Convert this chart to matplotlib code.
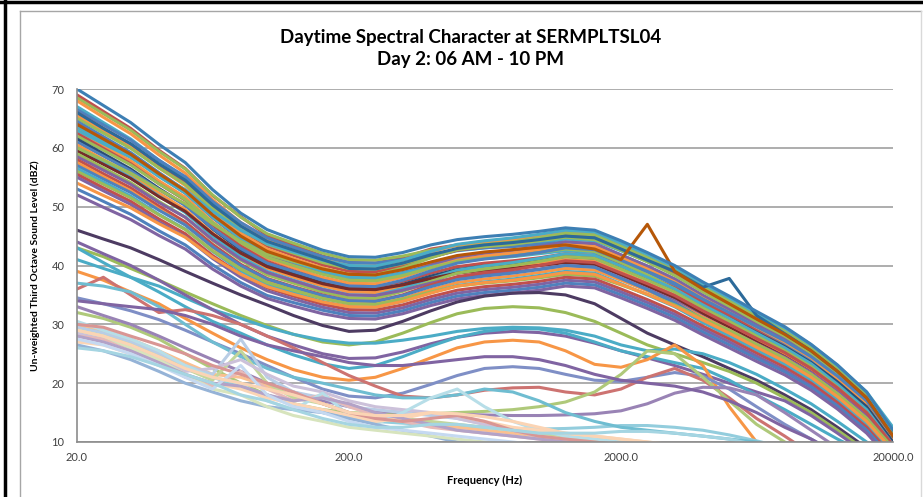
import matplotlib
matplotlib.use("Agg")
import matplotlib.pyplot as plt
from matplotlib.lines import Line2D

# third octave band centre frequencies (Hz)
freqs = [20, 25, 31.5, 40, 50, 63, 80, 100, 125, 160, 200, 250, 315, 400, 500, 630,
	800, 1000, 1250, 1600, 2000, 2500, 3150, 4000, 5000, 6300, 8000, 10000, 12500, 16000, 20000]

x_ticks = [20, 200, 2000, 20000]
x_tick_labels = ["20.0", "200.0", "2000.0", "20000.0"]
y_ticks = [10, 20, 30, 40, 50, 60, 70]

# busy daytime periods (upper band of curves)
upper_01 = [70, 67.2, 64.3, 60.6, 57.5, 52.9, 48.9, 46.1, 44.4, 42.6, 41.5, 41.4, 42.2, 43.5, 44.4, 44.9, 45.3, 45.8, 46.4, 46.0, 44.2, 42.2, 40.0, 37.2, 34.8, 32.2, 29.6, 26.6, 23.1, 18.5, 12]
upper_02 = [69, 66.2, 63.3, 59.6, 56.5, 51.9, 48.3, 45.1, 43.4, 41.6, 40.5, 40.4, 41.3, 42.8, 43.5, 44.0, 44.4, 44.9, 45.5, 45.2, 43.3, 41.4, 39.2, 36.4, 34.0, 31.4, 28.9, 26.0, 22.5, 18.0, 11]
upper_03 = [68.5, 65.8, 63.0, 59.4, 56.4, 52.0, 48.2, 45.4, 43.8, 42.1, 41.0, 40.9, 41.6, 42.6, 43.4, 43.8, 44.1, 44.5, 45.0, 44.7, 42.8, 40.9, 38.7, 35.9, 33.5, 30.9, 28.2, 25.3, 21.6, 17.0, 10.5]
upper_04 = [68, 65.2, 62.4, 58.8, 55.7, 51.2, 47.3, 44.5, 42.8, 41.1, 40.0, 39.9, 40.9, 42.3, 43.5, 44.1, 44.5, 45.1, 45.8, 45.4, 43.4, 41.2, 38.8, 35.7, 33.0, 30.5, 28.0, 25.3, 21.8, 17.5, 11.5]
upper_05 = [67, 64.3, 61.5, 57.9, 54.9, 50.5, 46.7, 43.9, 42.3, 40.6, 39.5, 39.4, 40.3, 41.5, 42.5, 43.0, 43.4, 43.9, 44.5, 44.2, 42.5, 40.7, 38.7, 36.2, 34.0, 31.3, 28.6, 25.5, 21.8, 17.0, 10]
upper_06 = [66.5, 63.9, 61.3, 57.9, 55.1, 50.9, 47.3, 44.7, 43.1, 41.5, 40.5, 40.4, 41.0, 41.9, 42.6, 43.0, 43.2, 43.6, 44.0, 43.7, 41.8, 39.9, 37.7, 34.9, 32.5, 29.9, 27.4, 24.5, 21.0, 16.5, 10.5]
upper_07 = [66, 63.3, 60.6, 57.1, 54.1, 49.8, 46.0, 43.3, 41.7, 40.1, 39.0, 38.9, 39.9, 41.4, 42.6, 43.2, 43.7, 44.3, 45.0, 44.7, 42.8, 40.9, 38.7, 35.9, 33.5, 30.9, 28.4, 25.5, 22.0, 17.5, 11]
upper_08 = [65.5, 62.8, 60.1, 56.6, 53.6, 49.3, 45.5, 42.8, 41.2, 39.6, 38.5, 38.4, 39.3, 40.5, 41.5, 42.0, 42.4, 42.9, 43.5, 43.2, 41.3, 39.4, 37.2, 34.4, 32.0, 29.4, 26.9, 24.0, 20.5, 16.0, 9.5]
upper_09 = [65, 62.5, 59.9, 56.6, 53.8, 49.7, 46.1, 43.6, 42.1, 40.5, 39.5, 39.4, 40.3, 41.6, 42.7, 43.2, 43.6, 44.2, 44.8, 44.4, 42.6, 40.6, 38.3, 35.5, 33.0, 30.4, 27.9, 25.0, 21.5, 17.0, 11]
upper_10 = [64.5, 61.9, 59.2, 55.8, 52.8, 48.6, 44.9, 42.2, 40.7, 39.1, 38.0, 37.9, 38.8, 40.0, 41.0, 41.5, 41.9, 42.4, 43.0, 42.7, 40.8, 38.9, 36.7, 33.9, 31.5, 29.0, 26.5, 23.8, 20.3, 16.0, 10]
upper_11 = [64, 61.4, 58.7, 55.3, 52.3, 48.1, 44.4, 41.7, 40.2, 38.6, 37.5, 37.4, 38.5, 40.1, 41.4, 42.1, 42.6, 43.2, 44.0, 43.7, 41.8, 39.9, 37.7, 34.9, 32.5, 29.9, 27.4, 24.5, 21.0, 16.5, 10]
upper_12 = [63.5, 61.0, 58.4, 55.1, 52.3, 48.2, 44.6, 42.1, 40.6, 39.0, 38.0, 37.9, 38.7, 39.8, 40.7, 41.2, 41.5, 42.0, 42.5, 42.2, 40.3, 38.4, 36.2, 33.4, 31.0, 28.5, 26.0, 23.3, 19.8, 15.5, 9.5]
upper_13 = [63, 60.4, 57.8, 54.4, 51.6, 47.4, 43.8, 41.2, 39.6, 38.0, 37.0, 36.9, 38.0, 39.6, 40.9, 41.6, 42.1, 42.7, 43.5, 43.2, 41.3, 39.4, 37.2, 34.4, 32.0, 29.5, 27.0, 24.3, 20.8, 16.5, 10.5]
upper_14 = [62.5, 59.9, 57.3, 53.9, 51.1, 46.9, 43.3, 40.7, 39.1, 37.5, 36.5, 36.4, 37.3, 38.7, 39.8, 40.4, 40.8, 41.3, 42.0, 41.7, 40.0, 38.2, 36.2, 33.7, 31.5, 28.9, 26.2, 23.3, 19.6, 15.0, 9.5]
upper_15 = [62, 59.6, 57.1, 53.9, 51.2, 47.3, 43.9, 41.4, 40.0, 38.5, 37.5, 37.4, 38.3, 39.6, 40.7, 41.2, 41.6, 42.2, 42.8, 42.4, 40.5, 38.4, 36.0, 33.1, 30.5, 28.1, 25.7, 23.0, 19.7, 15.5, 9]
upper_16 = [61.5, 59.0, 56.4, 53.1, 50.3, 46.2, 42.6, 40.1, 38.6, 37.0, 36.0, 35.9, 36.8, 38.2, 39.3, 39.9, 40.3, 40.8, 41.5, 41.2, 39.5, 37.7, 35.7, 33.2, 31.0, 28.6, 26.2, 23.5, 20.2, 16.0, 10]
upper_17 = [61, 58.6, 56.1, 52.9, 50.2, 46.3, 42.9, 40.4, 39.0, 37.5, 36.5, 36.4, 37.5, 39.1, 40.4, 41.1, 41.6, 42.2, 43.0, 42.7, 40.9, 39.0, 37.0, 34.3, 32.0, 29.6, 27.2, 24.5, 21.2, 17.0, 11]
upper_18 = [60.5, 58.0, 55.5, 52.3, 49.5, 45.5, 42.0, 39.5, 38.0, 36.5, 35.5, 35.4, 36.3, 37.7, 38.8, 39.4, 39.8, 40.3, 41.0, 40.7, 38.9, 37.0, 35.0, 32.3, 30.0, 27.5, 25.0, 22.3, 18.8, 14.5, 9]
upper_19 = [60, 57.5, 55.0, 51.8, 49.0, 45.0, 41.5, 39.0, 37.5, 36.0, 35.0, 34.9, 36.1, 37.8, 39.2, 39.9, 40.5, 41.2, 42.0, 41.7, 39.9, 38.0, 36.0, 33.3, 31.0, 28.5, 26.0, 23.3, 19.8, 15.5, 9.5]
upper_20 = [59.5, 57.2, 54.8, 51.7, 49.2, 45.4, 42.1, 39.8, 38.4, 36.9, 36.0, 35.9, 36.7, 37.8, 38.7, 39.2, 39.5, 40.0, 40.5, 40.2, 38.4, 36.5, 34.5, 31.8, 29.5, 27.0, 24.5, 21.8, 18.3, 14.0, 8.5]
upper_21 = [59, 56.6, 54.1, 50.9, 48.2, 44.3, 40.9, 38.4, 37.0, 35.5, 34.5, 34.4, 35.6, 37.3, 38.7, 39.4, 40.0, 40.7, 41.5, 41.2, 39.4, 37.5, 35.5, 32.8, 30.5, 28.0, 25.5, 22.8, 19.3, 15.0, 9]
upper_22 = [58.5, 56.2, 53.8, 50.7, 48.2, 44.4, 41.1, 38.8, 37.4, 35.9, 35.0, 34.9, 35.8, 37.0, 38.0, 38.5, 38.9, 39.4, 40.0, 39.7, 37.9, 36.0, 34.0, 31.3, 29.0, 26.7, 24.4, 21.8, 18.6, 14.5, 9]
upper_23 = [58, 55.6, 53.2, 50.1, 47.4, 43.6, 40.2, 37.8, 36.4, 35.0, 34.0, 33.9, 35.0, 36.7, 38.1, 38.8, 39.3, 40.0, 40.8, 40.5, 38.7, 36.9, 34.9, 32.3, 30.0, 27.6, 25.2, 22.5, 19.2, 15.0, 9.5]
upper_24 = [57.5, 55.1, 52.7, 49.6, 46.9, 43.1, 39.7, 37.3, 35.9, 34.5, 33.5, 33.4, 34.4, 35.9, 37.1, 37.7, 38.2, 38.8, 39.5, 39.2, 37.5, 35.7, 33.7, 31.2, 29.0, 26.6, 24.2, 21.5, 18.2, 14.0, 8.5]
upper_25 = [57, 54.7, 52.4, 49.4, 46.9, 43.2, 40.0, 37.7, 36.3, 34.9, 34.0, 33.9, 34.9, 36.4, 37.6, 38.2, 38.7, 39.3, 40.0, 39.7, 37.8, 35.9, 33.7, 30.9, 28.5, 26.1, 23.7, 21.0, 17.7, 13.5, 8]
upper_26 = [56.5, 54.2, 51.8, 48.7, 46.2, 42.4, 39.1, 36.8, 35.4, 33.9, 33.0, 32.9, 33.9, 35.4, 36.6, 37.2, 37.7, 38.3, 39.0, 38.7, 36.9, 35.0, 33.0, 30.3, 28.0, 25.6, 23.2, 20.5, 17.2, 13.0, 8]
upper_27 = [56, 53.8, 51.5, 48.6, 46.1, 42.5, 39.4, 37.1, 35.8, 34.4, 33.5, 33.4, 34.3, 35.5, 36.5, 37.0, 37.4, 37.9, 38.5, 38.2, 36.7, 35.1, 33.3, 31.0, 29.0, 26.6, 24.2, 21.5, 18.2, 14.0, 9]
upper_28 = [55.5, 53.2, 50.9, 47.9, 45.4, 41.7, 38.5, 36.2, 34.8, 33.4, 32.5, 32.4, 33.3, 34.7, 35.8, 36.4, 36.8, 37.3, 38.0, 37.7, 36.0, 34.2, 32.2, 29.7, 27.5, 25.1, 22.7, 20.0, 16.7, 12.5, 7.5]
upper_29 = [55, 52.7, 50.4, 47.4, 44.9, 41.2, 38.0, 35.7, 34.3, 32.9, 32.0, 31.9, 32.8, 34.2, 35.3, 35.9, 36.3, 36.8, 37.5, 37.2, 35.5, 33.7, 31.7, 29.2, 27.0, 24.6, 22.2, 19.5, 16.2, 12.0, 7]
upper_30 = [54, 51.9, 49.8, 47.1, 44.8, 41.4, 38.5, 36.4, 35.1, 33.8, 33.0, 32.9, 33.9, 35.3, 36.5, 37.1, 37.5, 38.1, 38.8, 38.5, 36.8, 35.1, 33.1, 30.7, 28.5, 26.1, 23.7, 21.0, 17.7, 13.5, 8.5]
upper_31 = [53, 50.9, 48.7, 45.9, 43.5, 40.1, 37.1, 34.9, 33.7, 32.4, 31.5, 31.4, 32.3, 33.7, 34.8, 35.4, 35.8, 36.3, 37.0, 36.7, 35.0, 33.2, 31.2, 28.7, 26.5, 24.2, 21.9, 19.3, 16.1, 12.0, 7]
upper_32 = [52, 49.9, 47.8, 45.1, 42.8, 39.4, 36.5, 34.4, 33.1, 31.8, 31.0, 30.9, 31.8, 33.2, 34.3, 34.9, 35.3, 35.8, 36.5, 36.2, 34.5, 32.7, 30.7, 28.2, 26.0, 23.7, 21.4, 18.8, 15.6, 11.5, 6.5]
upper_33 = [60, 57.9, 55.7, 52.9, 50.5, 47.1, 44.1, 41.9, 40.7, 39.4, 38.5, 38.4, 39.6, 41.3, 42.7, 43.4, 44.0, 44.7, 45.5, 45.2, 43.3, 41.4, 39.2, 36.4, 34.0, 31.4, 28.9, 26.0, 22.5, 18.0, 11.5]
upper_34 = [63, 60.7, 58.4, 55.4, 52.9, 49.2, 46.0, 43.7, 42.3, 40.9, 40.0, 39.9, 40.9, 42.4, 43.6, 44.2, 44.7, 45.3, 46.0, 45.7, 43.8, 41.9, 39.7, 36.9, 34.5, 31.9, 29.4, 26.5, 23.0, 18.5, 12.5]
upper_35 = [64, 61.5, 58.9, 55.6, 52.7, 48.6, 45.0, 42.4, 40.9, 39.4, 38.5, 38.4, 39.3, 40.6, 41.7, 42.3, 42.7, 43.1, 43.5, 42.8, 41.0, 47.0, 39.0, 36.0, 33.5, 30.9, 28.3, 25.5, 22.0, 17.5, 11]
upper_36 = [66, 63.3, 60.7, 57.3, 54.5, 50.3, 46.7, 44.1, 42.6, 41.0, 39.5, 39.4, 40.4, 41.8, 42.9, 43.5, 43.9, 44.4, 45.0, 44.7, 42.8, 40.9, 39.0, 36.3, 37.8, 31.5, 28.4, 25.5, 22.0, 17.5, 11]

# quieter periods (middle curves)
middle_01 = [46, 44.5, 43, 41, 39, 37, 35, 33.3, 31.5, 29.8, 28.8, 29, 30.5, 32.3, 33.8, 34.8, 35.3, 35.4, 35, 33.5, 31, 28.5, 26.5, 24.5, 22.5, 20.5, 18, 15.5, 12.5, 9, 6]
middle_02 = [43, 41.5, 39.5, 37.5, 35.5, 33.5, 31.5, 29.8, 28.3, 27, 26.5, 27, 28.5, 30.3, 31.8, 32.7, 33, 32.8, 32, 30.5, 28.5, 26.5, 25, 23.5, 22, 20, 17.5, 15, 12, 8.5, 5]
middle_03 = [41, 39.5, 38, 36.5, 34.5, 32.5, 31, 29.5, 28.3, 27.3, 26.8, 26.8, 27.3, 28, 28.8, 29.3, 29.5, 29.4, 29, 28, 26.5, 25.5, 25.8, 25, 23.5, 21.5, 19, 16.5, 13.5, 10, 7]
middle_04 = [44, 42, 40, 37.5, 35, 32.5, 30, 28, 26.5, 25, 24.2, 24.3, 25.3, 26.7, 27.8, 28.5, 28.8, 28.6, 28, 26.8, 25.5, 24.3, 23, 21.5, 20, 18.5, 17, 14.5, 11.5, 8, 5]
middle_05 = [43, 40.5, 38, 35.5, 33, 30.5, 28.5, 26.5, 24.8, 23.3, 22.5, 23, 24.5, 26.3, 27.8, 28.8, 29.3, 29.2, 28.5, 27, 25.5, 24.5, 23.5, 22.5, 20.5, 18, 15.5, 13, 10.5, 8, 5]
middle_06 = [39, 37.5, 35.5, 33.5, 31, 28.5, 26, 24, 22.3, 21, 20.5, 21, 22.5, 24.3, 26, 27, 27.3, 27, 25.5, 23.2, 22.7, 24, 26.5, 23, 16, 10, 7, 5, 4, 3, 2]
middle_07 = [34.5, 33.5, 32.3, 30.8, 29, 27, 25, 23, 21, 19, 17.8, 17.5, 18.3, 19.8, 21.3, 22.5, 22.8, 22.5, 21.5, 20.5, 20.3, 21, 21.8, 21.2, 19, 16, 13, 10.5, 8, 6, 4]
middle_08 = [36, 38, 35, 32, 32.5, 31.5, 30, 28, 26, 23.5, 21.3, 19.5, 17.8, 17.5, 18, 18.8, 19.2, 19.3, 18.5, 18, 19, 21, 22.5, 20.5, 17.5, 14, 11, 8, 6, 4, 3]
middle_09 = [32, 31, 29.5, 27.5, 25, 22.5, 20, 18, 16.5, 15.5, 15, 14.8, 14.7, 14.8, 15, 15.2, 15.5, 16, 16.8, 18.5, 21.5, 25.5, 25, 21, 17, 13, 10, 8, 6, 4, 3]
middle_10 = [30, 28.5, 27, 25, 23, 21, 19.5, 18, 16.5, 15, 14, 13.5, 13.2, 13, 12.8, 12.5, 12.3, 12.2, 12.3, 12.5, 12.8, 12.8, 12.5, 12, 11.2, 10.2, 9, 7.5, 6, 4.5, 3]
middle_11 = [33, 31.5, 30, 28, 26, 24, 22, 20, 18.5, 17, 16, 15.3, 15, 14.8, 14.7, 14.6, 14.5, 14.5, 14.6, 14.8, 15.3, 16.5, 18.3, 19.3, 19.2, 18, 15, 12, 9, 6, 4]
middle_12 = [37, 36.5, 35.5, 33, 30, 27, 24.5, 22.5, 21, 20, 19, 18, 17.5, 17.5, 18, 19, 18.5, 17, 15, 13.5, 12.5, 12, 11.5, 11, 10.5, 10, 9, 8, 6.5, 5, 3.5]
middle_13 = [34, 33.5, 33, 32.5, 31.5, 30, 28, 26.5, 25.5, 24.5, 23.5, 23, 23, 23.5, 24, 24.5, 24.5, 24, 23, 21.5, 20.5, 20, 19.5, 18.5, 17, 15, 12.5, 10.5, 8, 6, 4]

# quietest periods (pale curves at the bottom)
lower_01 = [30, 29, 27.5, 25.5, 23.5, 21.5, 21, 19.5, 18, 16.5, 15, 14, 13.5, 13, 12.5, 12, 11.5, 11, 10.5, 10, 9.5, 9, 8.5, 8, 7.5, 7, 6.5, 6, 5, 4, 3]
lower_02 = [29.5, 28.5, 27, 25, 23, 21.5, 27.5, 21, 18.5, 17.5, 16, 15.5, 15, 14.5, 14, 13, 12, 11, 10, 9.5, 9, 8.5, 8, 7.5, 7, 6.5, 6, 5.5, 5, 4, 3]
lower_03 = [29, 28, 26.5, 24.5, 22.5, 20.5, 25.5, 20, 17.5, 16.5, 15, 14.5, 14, 13.5, 13, 12.5, 12, 11.5, 11, 10.5, 10, 9.5, 9, 8.5, 8, 7.5, 7, 6, 5, 4, 3]
lower_04 = [28.5, 27.5, 26, 24, 22, 22.5, 24, 21.5, 19.5, 18.5, 17, 16, 15.5, 15, 14, 13, 12, 11, 10, 9.5, 9, 8.5, 8, 7.5, 7, 6.5, 6, 5.5, 5, 4, 3]
lower_05 = [28, 27.5, 26, 23.5, 21, 19.5, 22, 19, 17, 18, 16, 14.5, 13.5, 12.5, 12, 11.5, 11, 10.5, 10, 9.5, 9, 8.5, 8, 7.5, 7, 6.5, 6, 5.5, 5, 4, 3]
lower_06 = [30.5, 29, 27.5, 25.5, 23, 21, 20, 17, 15.5, 18.3, 14.5, 13, 15, 17.5, 19, 16, 13.5, 12, 11, 10.5, 10, 9.5, 9, 8.5, 8, 7.5, 7, 6, 5, 4, 3]
lower_07 = [27, 26.5, 25, 23, 21.5, 20, 19, 17.5, 16.5, 15.5, 14.5, 13.5, 14, 15, 14.5, 13.5, 12.5, 12, 11.5, 11, 10.5, 10, 9.5, 9, 8.5, 8, 7.5, 7, 6, 4.5, 3]
lower_08 = [26.5, 25.5, 24, 22, 20, 18.5, 17, 16, 15.5, 15, 14, 13, 12, 11, 10, 9.5, 9, 8.5, 8, 7.5, 7, 6.5, 6, 5.5, 5, 4.5, 4, 3.5, 3, 2.5, 2]
lower_09 = [29, 28, 26, 24, 21.5, 19, 18, 16, 14.5, 13.5, 12.5, 12, 11.5, 11, 10.5, 10, 9.5, 9, 8.5, 8, 7.5, 7, 6.5, 6, 5.5, 5, 4.5, 4, 3.5, 3, 2.5]
lower_10 = [28, 27, 25.5, 23.5, 21.5, 20, 19.5, 18, 17, 17.5, 16.5, 15, 14, 13, 12, 11.5, 11, 10.5, 10, 9.5, 9, 8.5, 8, 7.5, 7, 6.5, 6, 5.5, 5, 4, 3]
lower_11 = [30, 29.5, 28, 26.5, 25, 23, 21.5, 20, 18.5, 16.5, 15, 14, 13.5, 14, 14.5, 13.5, 12, 11, 10.5, 10, 9.5, 9, 8.5, 8, 7.5, 7, 6.5, 6, 5, 4, 3]
lower_12 = [27.5, 26.5, 25, 23, 21, 19, 23, 18, 16, 15, 13.5, 12.5, 12, 11.5, 11, 10.5, 10, 9.5, 9, 8.5, 8, 7.5, 7, 6.5, 6, 5.5, 5, 4.5, 4, 3.5, 3]
lower_13 = [29, 28, 26.5, 24.5, 22.5, 21, 20, 19, 18, 16.5, 15, 14.5, 14.5, 15, 14.8, 14.3, 13.5, 12.5, 11.5, 11, 10.5, 10, 9.5, 9, 8.5, 8, 7.5, 6.5, 5.5, 4.5, 3]
lower_14 = [26, 25.5, 24.5, 23, 21.5, 20, 18, 17, 15.5, 14, 13, 12.5, 12.5, 13, 13, 12.5, 12, 11.5, 11.5, 11.5, 11.8, 11.8, 11.5, 11, 10.5, 9.5, 8, 6.5, 5, 4, 3]

upper = [upper_02, upper_03, upper_04, upper_05, upper_06, upper_07, upper_08, upper_09, upper_10,
	upper_11, upper_12, upper_13, upper_14, upper_15, upper_16, upper_17, upper_18, upper_19, upper_20,
	upper_21, upper_22, upper_23, upper_24, upper_25, upper_26, upper_27, upper_28, upper_29, upper_30,
	upper_31, upper_32, upper_33, upper_34, upper_36, upper_35, upper_01]
upper_colors = ["#C0504D", "#9BBB59", "#F79646", "#4BACC6", "#4F81BD", "#C0504D", "#F79646", "#9BBB59", "#4F81BD",
	"#8064A2", "#4BACC6", "#F79646", "#C0504D", "#9BBB59", "#2C4D75", "#4F81BD", "#F79646", "#4BACC6", "#772C2A",
	"#9BBB59", "#8064A2", "#C0504D", "#F79646", "#4F81BD", "#4BACC6", "#9BBB59", "#C0504D", "#8064A2", "#F79646",
	"#4F81BD", "#8064A2", "#9BBB59", "#4BACC6", "#2C6A9A", "#B65708", "#3D7FB4"]

middle = [middle_01, middle_02, middle_03, middle_04, middle_05, middle_06, middle_07,
	middle_08, middle_09, middle_10, middle_11, middle_12, middle_13]
middle_colors = ["#4D3B62", "#9BBB59", "#4BACC6", "#8064A2", "#4BACC6", "#F79646", "#7F8FC6",
	"#CD7371", "#AFC97A", "#93CDDD", "#9983B5", "#6FBDD1", "#8064A2"]

lower = [lower_01, lower_02, lower_03, lower_04, lower_05, lower_06, lower_07,
	lower_08, lower_09, lower_10, lower_11, lower_12, lower_13, lower_14]
lower_colors = ["#FAC090", "#B9CDE5", "#C3D69B", "#CCC1DA", "#E6B9B8", "#B7DEE8", "#FCD5B5",
	"#95B3D7", "#D7E4BD", "#B3A2C7", "#D99694", "#C5D9F1", "#FBD4B4", "#A5D5E2"]


def draw_frame(fig):
	# page border (black) and chart area border (grey)
	fig.add_artist(Line2D([5 / 923, 5 / 923], [0, 1], color="black", lw=2.5))
	fig.add_artist(Line2D([0, 1], [1 - 2 / 497, 1 - 2 / 497], color="black", lw=2.5))
	fig.add_artist(Line2D([20 / 923, 921 / 923], [1 - 11 / 497, 1 - 11 / 497], color="#A6A6A6", lw=1))
	fig.add_artist(Line2D([20 / 923, 20 / 923], [0, 1 - 11 / 497], color="#A6A6A6", lw=1))
	fig.add_artist(Line2D([921 / 923, 921 / 923], [0, 1 - 11 / 497], color="#D9D9D9", lw=1))


def plot_spectra():
	fig = plt.figure(figsize=(9.23, 4.97), dpi=100)
	ax = fig.add_axes([77 / 923, 1 - 442 / 497, 816 / 923, 353 / 497])

	for group, colors in [(upper, upper_colors), (middle, middle_colors), (lower, lower_colors)]:
		for values, c in zip(group, colors):
			ax.plot(freqs, values, color=c, lw=2.2, solid_joinstyle="round", solid_capstyle="round")

	ax.set_xscale("log")
	ax.set_xlim(20, 20000)
	ax.set_ylim(10, 70)
	ax.set_xticks(x_ticks)
	ax.set_xticklabels(x_tick_labels)
	ax.xaxis.set_minor_locator(matplotlib.ticker.NullLocator())
	ax.set_yticks(y_ticks)
	ax.tick_params(axis="x", length=0, labelsize=8, labelcolor="#404040", pad=7)
	ax.tick_params(axis="y", length=0, labelsize=8, labelcolor="#404040", pad=9)
	for lab in ax.get_xticklabels() + ax.get_yticklabels():
		lab.set_family("Lato")

	ax.grid(axis="y", color="#A0A0A0", lw=1.2)
	ax.set_axisbelow(True)
	for side in ["top", "right"]:
		ax.spines[side].set_visible(False)
	for side in ["left", "bottom"]:
		ax.spines[side].set_color("#8C8C8C")
		ax.spines[side].set_linewidth(1.2)

	ax.set_xlabel("Frequency (Hz)", family="Lato", fontweight="bold", fontsize=8)
	ax.xaxis.set_label_coords(0.5, -33 / 353)
	ax.set_ylabel("Un-weighted Third Octave Sound Level (dBZ)", family="Lato", fontweight="bold", fontsize=7.5)
	ax.yaxis.set_label_coords(-37 / 816, 0.5)

	fig.text(0.51, 1 - 37 / 497, "Daytime Spectral Character at SERMPLTSL04", ha="center", va="center",
		family="Lato", fontweight="bold", fontsize=13.5)
	fig.text(0.51, 1 - 60 / 497, "Day 2: 06 AM - 10 PM", ha="center", va="center",
		family="Lato", fontweight="bold", fontsize=13.5)

	draw_frame(fig)
	fig.savefig("out.png", dpi=100)


if __name__ == '__main__':
	plot_spectra()
